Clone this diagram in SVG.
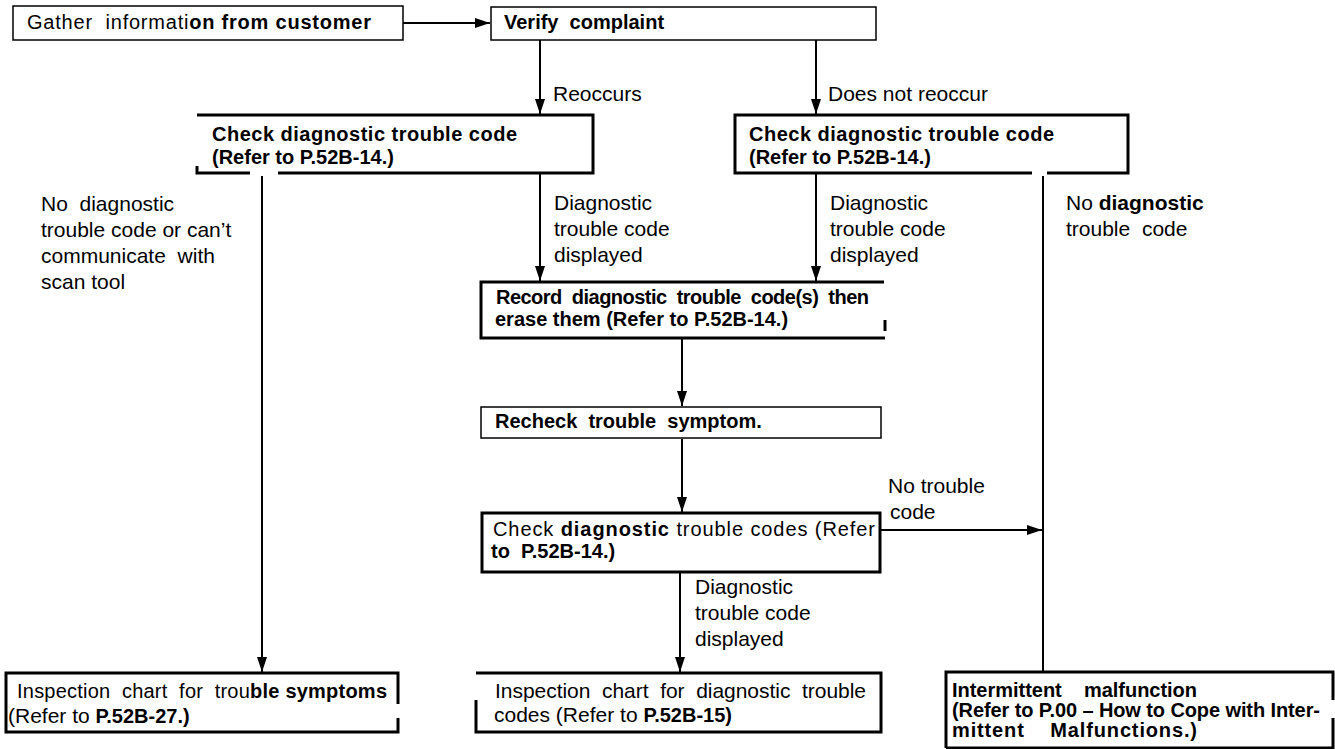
<svg xmlns="http://www.w3.org/2000/svg" width="1335" height="749" viewBox="0 0 1335 749" xml:space="preserve">
<style>
text{font-family:"Liberation Sans",Arial,Helvetica,sans-serif;fill:#000;white-space:pre}
.b{font-size:20px;font-weight:bold}
.n{font-weight:normal}
.l{font-size:21px}
.thin{fill:none;stroke:#000;stroke-width:1.5}
.thick{fill:none;stroke:#000;stroke-width:3}
.c{fill:none;stroke:#000;stroke-width:2}
</style>
<defs>
<marker id="ah" markerUnits="userSpaceOnUse" markerWidth="16" markerHeight="12" refX="15" refY="5" orient="auto">
<path d="M0,0 L15,5 L0,10 z" fill="#000"/>
</marker>
</defs>
<rect width="1335" height="749" fill="#fff"/>

<g id="n-gather">
<rect class="thin" x="13" y="6" width="390" height="34"/>
<text class="b" x="27" y="29" textLength="344" lengthAdjust="spacing"><tspan class="n">Gather  informati</tspan>on from customer</text>
</g>

<g id="n-verify">
<rect class="thin" x="491" y="7" width="385" height="33"/>
<text class="b" x="504" y="29">Verify  complaint</text>
</g>

<g id="n-check-left">
<path class="thick" d="M197,115 H593 V173 H278 M250,173 H197 V166"/>
<text class="b" x="212" y="141" textLength="305" lengthAdjust="spacing">Check diagnostic trouble code</text>
<text class="b" x="212" y="164">(Refer to P.52B-14.)</text>
</g>

<g id="n-check-right">
<path class="thick" d="M1047,173 H1128 V115 H735 V173 H1032"/>
<text class="b" x="749" y="141" textLength="305" lengthAdjust="spacing">Check diagnostic trouble code</text>
<text class="b" x="749" y="164">(Refer to P.52B-14.)</text>
</g>

<g id="n-record">
<path class="thick" d="M884,282 H481 V338 H885 M885,320 V331"/>
<text class="b" x="496" y="304" textLength="373" lengthAdjust="spacing">Record  diagnostic  trouble  code(s)  then</text>
<text class="b" x="495" y="326">erase them (Refer to P.52B-14.)</text>
</g>

<g id="n-recheck">
<rect class="thin" x="481" y="407" width="400" height="31"/>
<text class="b" x="495" y="428">Recheck  trouble  symptom.</text>
</g>

<g id="n-check-dtcs">
<path class="thick" d="M482,513 H880 V572 H482 Z"/>
<text class="b" x="493" y="536" textLength="382" lengthAdjust="spacing"><tspan class="n">Check </tspan>diagnostic<tspan class="n"> trouble codes (Refer</tspan></text>
<text class="b" x="491" y="558">to  P.52B-14.)</text>
</g>

<g id="n-insp-symptoms">
<path class="thick" d="M398,704 V673 H6 V732 H398 V718"/>
<text class="b" x="17" y="698" textLength="370" lengthAdjust="spacing"><tspan class="n">Inspection  chart  for  trou</tspan>ble symptoms</text>
<text class="l" x="8" y="723">(Refer to <tspan class="b">P.52B-27.)</tspan></text>
</g>

<g id="n-insp-dtc">
<path class="thick" d="M476,700 V732 H881 V673 H476"/>
<text class="l" x="495" y="698" textLength="371" lengthAdjust="spacing">Inspection  chart  for  diagnostic  trouble</text>
<text class="l" x="494" y="722">codes (Refer to <tspan class="b">P.52B-15)</tspan></text>
</g>

<g id="n-intermittent">
<path class="thick" d="M946,748 V672 H1333 V700 M1333,718 V748 H946"/>
<text class="b" x="952" y="697" textLength="245" lengthAdjust="spacing">Intermittent    malfunction</text>
<text class="b" x="952" y="717" textLength="368" lengthAdjust="spacing">(Refer to P.00 – How to Cope with Inter-</text>
<text class="b" x="952" y="737" textLength="245" lengthAdjust="spacing">mittent    Malfunctions.)</text>
</g>

<g id="connectors">
<line class="c" x1="403" y1="23" x2="490" y2="23" marker-end="url(#ah)"/>
<line class="c" x1="540" y1="40" x2="540" y2="114" marker-end="url(#ah)"/>
<line class="c" x1="816" y1="40" x2="816" y2="114" marker-end="url(#ah)"/>
<line class="c" x1="262" y1="176" x2="262" y2="672" marker-end="url(#ah)"/>
<line class="c" x1="540" y1="174" x2="540" y2="281" marker-end="url(#ah)"/>
<line class="c" x1="816" y1="174" x2="816" y2="281" marker-end="url(#ah)"/>
<line class="c" x1="1043" y1="176" x2="1043" y2="672"/>
<line class="c" x1="682" y1="339" x2="682" y2="406" marker-end="url(#ah)"/>
<line class="c" x1="682" y1="439" x2="682" y2="512" marker-end="url(#ah)"/>
<line class="c" x1="881" y1="530" x2="1042" y2="530" marker-end="url(#ah)"/>
<line class="c" x1="680" y1="573" x2="680" y2="672" marker-end="url(#ah)"/>
</g>

<g id="labels">
<text class="l" x="553" y="101">Reoccurs</text>
<text class="l" x="828" y="101">Does not reoccur</text>
<text class="l" x="41" y="211">No  diagnostic</text>
<text class="l" x="41" y="237">trouble code or can’t</text>
<text class="l" x="41" y="263">communicate  with</text>
<text class="l" x="41" y="289">scan tool</text>
<text class="l" x="554" y="210">Diagnostic</text>
<text class="l" x="554" y="236">trouble code</text>
<text class="l" x="554" y="262">displayed</text>
<text class="l" x="830" y="210">Diagnostic</text>
<text class="l" x="830" y="236">trouble code</text>
<text class="l" x="830" y="262">displayed</text>
<text class="l" x="1066" y="210">No <tspan font-weight="bold">diagnostic</tspan></text>
<text class="l" x="1066" y="236">trouble  code</text>
<text class="l" x="888" y="493">No trouble</text>
<text class="l" x="890" y="519">code</text>
<text class="l" x="695" y="594">Diagnostic</text>
<text class="l" x="695" y="620">trouble code</text>
<text class="l" x="695" y="646">displayed</text>
</g>
</svg>
